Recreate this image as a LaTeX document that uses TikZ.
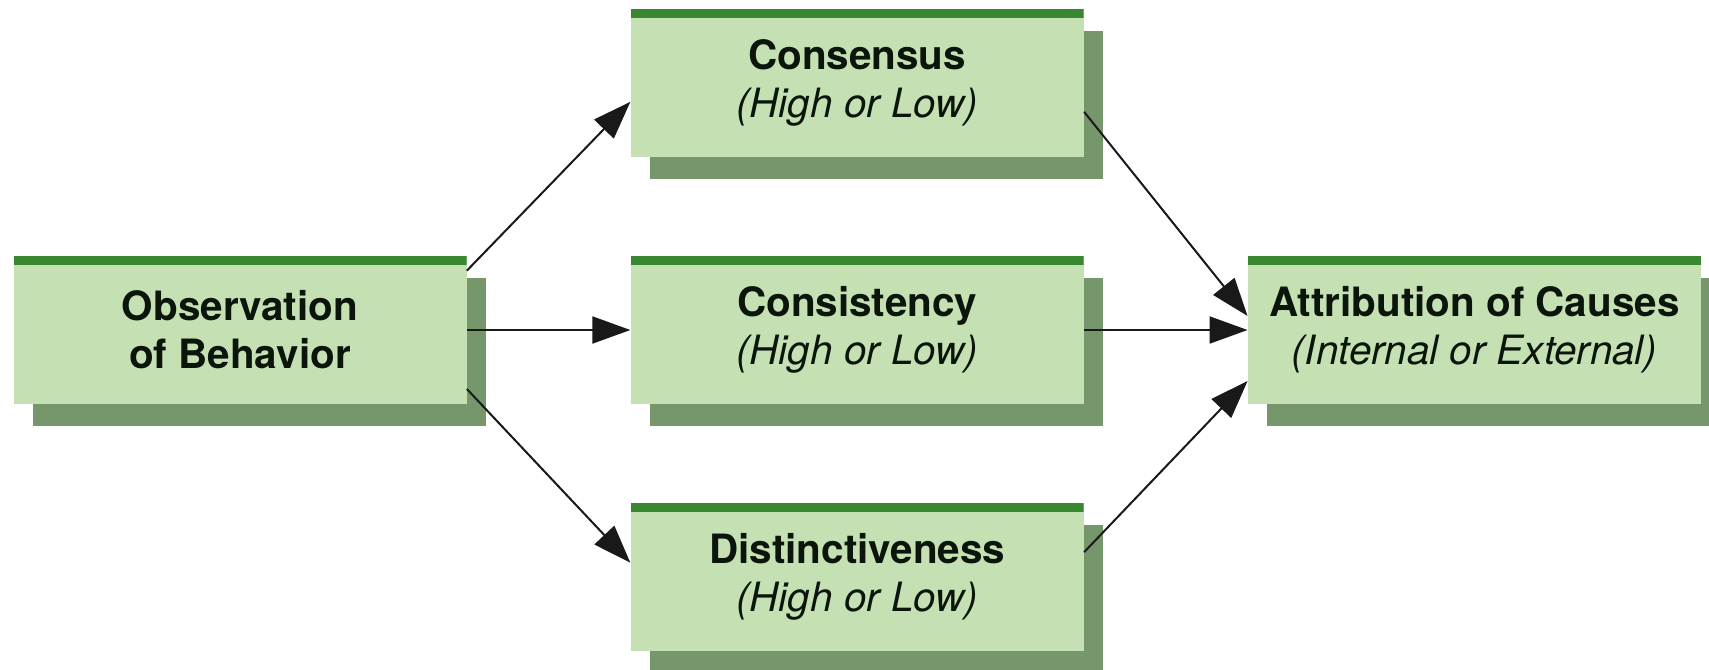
\documentclass[tikz,border=0pt]{standalone}
\usepackage{fontspec}
\setmainfont{TeX Gyre Heros}
\usepackage{tikz}
\usetikzlibrary{positioning,shadows,arrows.meta}
\definecolor{boxgreen}{HTML}{C5E1B4}
\definecolor{bargreen}{HTML}{3A8732}
\definecolor{shadegreen}{HTML}{76966B}
\definecolor{inkgreen}{HTML}{0B150B}

\begin{document}
\begin{tikzpicture}[node distance=1.97cm and 3.27cm,
  every node/.style={fill=boxgreen,minimum width=9.06cm,minimum height=2.96cm,inner sep=0pt,align=center,
    text=inkgreen,font=\fontsize{23}{27.3}\selectfont,
    drop shadow={shadow xshift=0.39cm,shadow yshift=-0.44cm,fill=shadegreen,opacity=1},
    path picture={\fill[bargreen] (path picture bounding box.north west) rectangle ([yshift=-0.18cm]path picture bounding box.north east);}},
  link/.style={-{Triangle[length=0.76cm,width=0.54cm]},line width=0.04cm,black!90}]
  \useasboundingbox (0,0) rectangle (34.18,-13.38);
  \node (obs) at (4.80,-6.60) {\textbf{Observation}\\\textbf{of Behavior}};
  \node (consist) [right=of obs] {\textbf{Consistency}\\\textit{(High or Low)}};
  \node (consens) [above=of consist] {\textbf{Consensus}\\\textit{(High or Low)}};
  \node (distinct) [below=of consist] {\textbf{Distinctiveness}\\\textit{(High or Low)}};
  \node (attrib) [right=of consist] {\textbf{Attribution of Causes}\\\textit{(Internal or External)}};
  \draw[link] ([yshift=-0.3cm]obs.north east) -- ([yshift=-0.38cm]consens.west);
  \draw[link] (obs) -- (consist);
  \draw[link] ([yshift=-1.18cm]obs.east) -- ([yshift=0.29cm]distinct.west);
  \draw[link] ([yshift=-0.58cm]consens.east) -- ([yshift=0.28cm]attrib.west);
  \draw[link] (consist) -- (attrib);
  \draw[link] ([yshift=0.5cm]distinct.east) -- ([yshift=-1.02cm]attrib.west);
\end{tikzpicture}
\end{document}
